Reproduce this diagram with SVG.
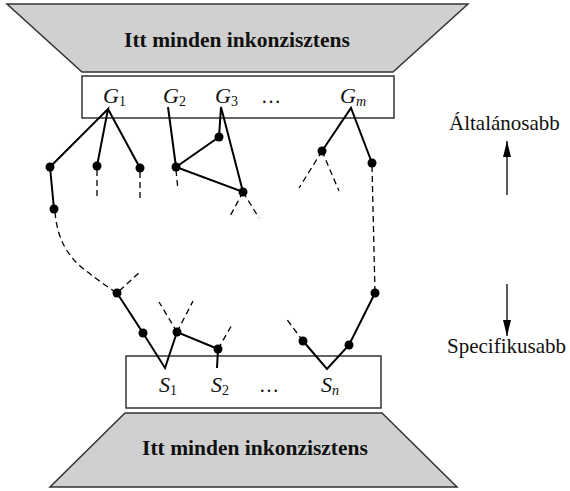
<svg xmlns="http://www.w3.org/2000/svg" width="570" height="491" viewBox="0 0 570 491">
<defs>
<style>
.trap{fill:#d0d0d0;stroke:#333;stroke-width:1.5}
.box{fill:#fff;stroke:#333;stroke-width:1.5}
.big{font-family:"Liberation Serif",serif;font-weight:bold;font-size:21.5px;text-anchor:middle;fill:#111}
.lab{font-family:"Liberation Serif",serif;font-style:italic;font-size:22px;fill:#111}
.sub{font-style:normal;font-size:14px}
.subi{font-style:italic;font-size:14px}
.dots{font-family:"Liberation Serif",serif;font-size:20px;fill:#111}
.side{font-family:"Liberation Serif",serif;font-size:21px;fill:#111}
.s{fill:none;stroke:#000;stroke-width:2}
.d{fill:none;stroke:#000;stroke-width:1.3;stroke-dasharray:6 4}
.n{fill:#000}
.ar{fill:none;stroke:#000;stroke-width:1.3}
</style>
<marker id="ah" viewBox="0 0 10 10" refX="10" refY="5" markerWidth="16" markerHeight="8" markerUnits="userSpaceOnUse" orient="auto" preserveAspectRatio="none">
<path d="M0,0 L10,5 L0,10 Z" fill="#000"/>
</marker>
</defs>
<rect width="570" height="491" fill="#fff"/>
<g id="top-inconsistent">
<polygon class="trap" points="7,4 468,4 393,72 82,72"/>
<text class="big" x="237" y="47">Itt minden inkonzisztens</text>
</g>
<g id="top-box">
<rect class="box" x="82" y="76" width="312" height="42"/>
<text class="lab" x="103" y="103">G<tspan class="sub" dy="3">1</tspan></text>
<text class="lab" x="163" y="103">G<tspan class="sub" dy="3">2</tspan></text>
<text class="lab" x="215" y="103">G<tspan class="sub" dy="3">3</tspan></text>
<text class="dots" x="261" y="103">…</text>
<text class="lab" x="340" y="103">G<tspan class="subi" dy="3">m</tspan></text>
</g>
<g id="bottom-box">
<rect class="box" x="126" y="356" width="255" height="52"/>
<text class="lab" x="159" y="392">S<tspan class="sub" dy="3">1</tspan></text>
<text class="lab" x="211" y="392">S<tspan class="sub" dy="3">2</tspan></text>
<text class="dots" x="259" y="392">…</text>
<text class="lab" x="321" y="392">S<tspan class="subi" dy="3">n</tspan></text>
</g>
<g id="bottom-inconsistent">
<polygon class="trap" points="125,413 382,413 457,487 50,487"/>
<text class="big" x="255" y="455">Itt minden inkonzisztens</text>
</g>
<g id="connectors">
<path class="s" d="M50,167 L108,109 L97,166 M108,109 L140,168 M50,167 L54,209"/>
<path class="d" d="M97,170 L97,198 M140,172 L140,198"/>
<path class="d" d="M55,212 Q58,250 85,270 Q100,282 117,293 L140,272"/>
<path class="s" d="M168,107 L176,167 L219,137 L221,107 L243,192 L176,167"/>
<path class="d" d="M176,170 L178,190 M243,192 L229,218 M243,192 L259,218"/>
<path class="s" d="M322,151 L351,108 L372,163"/>
<path class="d" d="M322,151 L299,188 M322,151 L339,191 M372,166 L375,293"/>
<path class="s" d="M117,293 L143,333 L165,368 L177,332 L218,349 L217,368"/>
<path class="d" d="M177,332 L159,302 M177,332 L193,301 M218,349 L233,323"/>
<path class="s" d="M303,341 L327,369 L349,345 L375,293"/>
<path class="d" d="M303,341 L285,317"/>
</g>
<g id="tree-nodes">
<circle class="n" cx="50" cy="167" r="4.5"/>
<circle class="n" cx="97" cy="166" r="4.5"/>
<circle class="n" cx="140" cy="168" r="4.5"/>
<circle class="n" cx="54" cy="209" r="4.5"/>
<circle class="n" cx="117" cy="293" r="4.5"/>
<circle class="n" cx="176" cy="167" r="4.5"/>
<circle class="n" cx="219" cy="137" r="4.5"/>
<circle class="n" cx="243" cy="192" r="4.5"/>
<circle class="n" cx="322" cy="151" r="4.5"/>
<circle class="n" cx="372" cy="163" r="4.5"/>
<circle class="n" cx="375" cy="293" r="4.5"/>
<circle class="n" cx="143" cy="333" r="4.5"/>
<circle class="n" cx="177" cy="332" r="4.5"/>
<circle class="n" cx="218" cy="349" r="4.5"/>
<circle class="n" cx="303" cy="341" r="4.5"/>
<circle class="n" cx="349" cy="345" r="4.5"/>
</g>
<g id="direction-general">
<text class="side" x="449" y="130">Általánosabb</text>
<line class="ar" x1="507" y1="195" x2="507" y2="141" marker-end="url(#ah)"/>
</g>
<g id="direction-specific">
<line class="ar" x1="507" y1="284" x2="507" y2="336" marker-end="url(#ah)"/>
<text class="side" x="447" y="353">Specifikusabb</text>
</g>
</svg>
